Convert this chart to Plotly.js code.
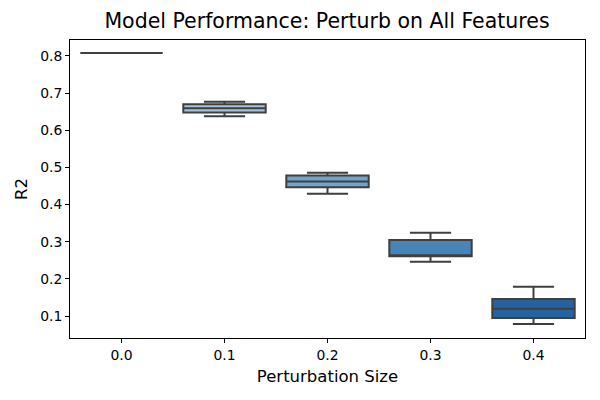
<!DOCTYPE html>
<html>
<head>
<meta charset="utf-8">
<script src="https://cdn.plot.ly/plotly-3.0.1.min.js"></script>
<style>html,body{margin:0;padding:0;background:#fff;}#chart{width:600px;height:400px;}</style>
</head>
<body>
<div id="chart"></div>
<script>
const categories = ["0.0", "0.1", "0.2", "0.3", "0.4"];
const lowerWhisker = [0.808, 0.638, 0.429, 0.246, 0.079];
const q1Values = [0.808, 0.648, 0.447, 0.261, 0.095];
const medianValues = [0.808, 0.659, 0.462, 0.263, 0.120];
const q3Values = [0.808, 0.670, 0.478, 0.305, 0.146];
const upperWhisker = [0.808, 0.677, 0.486, 0.324, 0.179];
const boxColors = ["#d0dde9", "#a6c4dc", "#72a5c9", "#4884b5", "#2462a0"];

const traces = categories.map((c, i) => ({
  type: "box",
  x: [c],
  q1: [q1Values[i]],
  median: [medianValues[i]],
  q3: [q3Values[i]],
  lowerfence: [lowerWhisker[i]],
  upperfence: [upperWhisker[i]],
  width: 0.8,
  fillcolor: boxColors[i],
  line: {color: "#3f3f3f", width: 2},
  whiskerwidth: 0.5,
  boxpoints: false,
  showlegend: false,
  hoverinfo: "skip"
}));

const layout = {
  width: 600, height: 400,
  margin: {l: 70, r: 15, t: 40, b: 62},
  paper_bgcolor: "#fff", plot_bgcolor: "#fff",
  font: {family: "DejaVu Sans, sans-serif", color: "#000", size: 13},
  title: {text: "Model Performance: Perturb on All Features", font: {size: 20.5, color: "#000"}, x: 0.545, xanchor: "center", y: 0.965, yanchor: "top"},
  boxmode: "overlay",
  xaxis: {
    type: "category",
    categoryorder: "array", categoryarray: categories,
    range: [-0.5, 4.5],
    title: {text: "Perturbation Size", font: {size: 16.5}, standoff: 8},
    showline: true, linecolor: "#000", linewidth: 1, mirror: true,
    ticks: "outside", ticklen: 4, tickcolor: "#000",
    showgrid: false, zeroline: false,
    tickfont: {size: 13.9}
  },
  yaxis: {
    range: [0.041, 0.843],
    tickvals: [0.1, 0.2, 0.3, 0.4, 0.5, 0.6, 0.7, 0.8],
    ticktext: ["0.1", "0.2", "0.3", "0.4", "0.5", "0.6", "0.7", "0.8"],
    title: {text: "R2", font: {size: 16.5}, standoff: 8},
    showline: true, linecolor: "#000", linewidth: 1, mirror: true,
    ticks: "outside", ticklen: 4, tickcolor: "#000",
    showgrid: false, zeroline: false,
    tickfont: {size: 13.9}
  }
};

Plotly.newPlot("chart", traces, layout, {displayModeBar: false, staticPlot: true});
</script>
</body>
</html>
